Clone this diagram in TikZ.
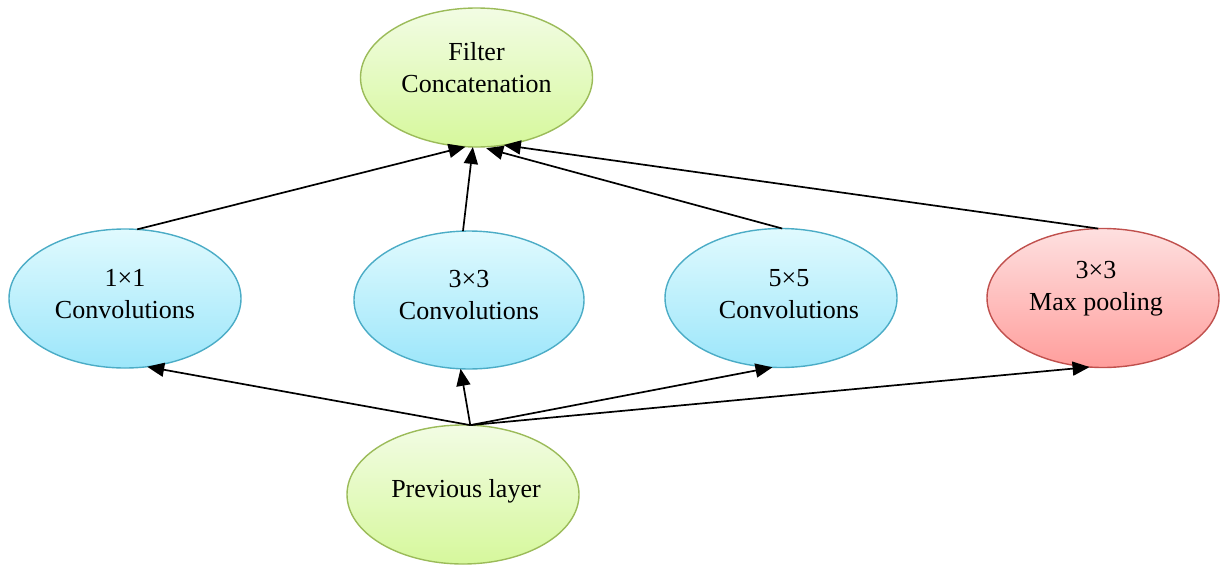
\documentclass[tikz,border=0pt]{standalone}
\usepackage{fontspec}
\setmainfont{Liberation Serif}
\usetikzlibrary{arrows.meta,shapes.geometric}
\definecolor{grnTop}{HTML}{F2FCE4}
\definecolor{grnBot}{HTML}{D6F89C}
\definecolor{grnLine}{HTML}{9BBB59}
\definecolor{bluTop}{HTML}{E0FAFE}
\definecolor{bluBot}{HTML}{9CE6FA}
\definecolor{bluLine}{HTML}{4BACC6}
\definecolor{redTop}{HTML}{FEE0E0}
\definecolor{redBot}{HTML}{FF9E9C}
\definecolor{redLine}{HTML}{C0504D}
\newcommand{\dpt}[1]{\rule[-#1]{0pt}{0pt}}
\tikzset{
  oval/.style={ellipse, minimum width=232pt, minimum height=139pt, inner sep=0pt, outer sep=0pt,
    line width=1.4pt, align=center, font=\fontsize{26}{32}\selectfont},
  greenoval/.style={oval, draw=grnLine, top color=grnTop, bottom color=grnBot},
  blueoval/.style={oval, draw=bluLine, top color=bluTop, bottom color=bluBot},
  redoval/.style={oval, draw=redLine, top color=redTop, bottom color=redBot},
  arr/.style={line width=1.7pt, -{Triangle[length=17pt,width=14pt]}},
}
\begin{document}
\begin{tikzpicture}[x=1pt,y=-1pt]
\useasboundingbox (0,0) rectangle (1223,565);
\node[greenoval] (fc) at (476.5,77.5) {Filter\\Concatenation\dpt{20pt}};
\node[blueoval] (a) at (125,298.5) {1×1\\Convolutions\dpt{10pt}};
\node[blueoval, minimum width=230pt, minimum height=138pt] (b) at (469,300) {3×3\\Convolutions\dpt{11pt}};
\node[blueoval] (c) at (781,298) {\hspace*{16pt}5×5\\\hspace*{16pt}Convolutions\dpt{9pt}};
\node[redoval] (d) at (1103,298) {3×3\hspace*{14pt}\\Max pooling\hspace*{14pt}\dpt{24pt}};
\node[greenoval] (p) at (463,494.5) {\hspace*{6pt}Previous layer\dpt{12pt}};
% lower arrows
\draw[arr] (p.84) -- (a.288);
\draw[arr] (p.84) -- (b.263);
\draw[arr] (p.84) -- (c.263);
\draw[arr] (p.84) -- (d.259);
% upper arrows
\draw[arr] (a.80.5) -- (fc.261);
\draw[arr] (b.95) -- (fc.267);
\draw[arr, shorten >=5pt] (c.89) -- (fc.274);
\draw[arr] (d.94) -- (fc.292);
\end{tikzpicture}
\end{document}
